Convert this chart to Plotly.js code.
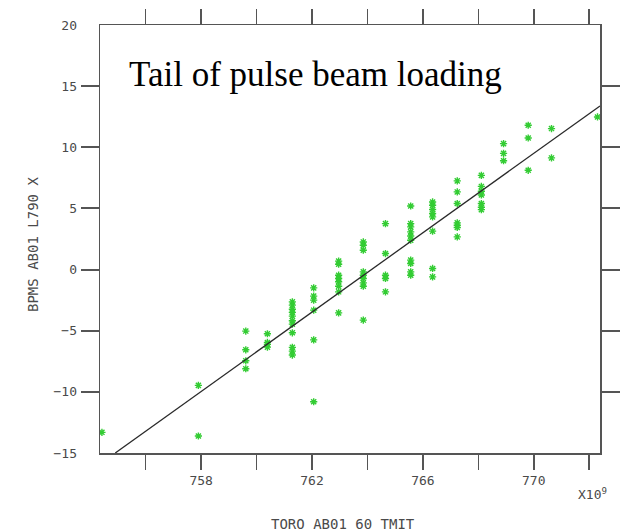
<!DOCTYPE html>
<html>
<head>
<meta charset="utf-8">
<script src="https://cdn.plot.ly/plotly-3.0.1.min.js"></script>
<style>html,body{margin:0;padding:0;background:#fff;}#chart{width:620px;height:531px;}</style>
</head>
<body>
<div id="chart"></div>
<script>
// TORO AB01 60 TMIT (x10^9) values
const tmit = [
  754.42,
  757.90, 757.90,
  759.61, 759.61, 759.61, 759.61,
  760.39, 760.39, 760.39, 760.39,
  761.29, 761.29, 761.29, 761.29, 761.29, 761.29, 761.29, 761.29, 761.29, 761.29, 761.29,
  762.06, 762.06, 762.06, 762.06, 762.06, 762.06,
  762.96, 762.96, 762.96, 762.96, 762.96, 762.96, 762.96, 762.96,
  763.85, 763.85, 763.85, 763.85, 763.85, 763.85, 763.85, 763.85, 763.85,
  764.65, 764.65, 764.65, 764.65, 764.65,
  765.56, 765.56, 765.56, 765.56, 765.56, 765.56, 765.56, 765.56, 765.56, 765.56,
  766.35, 766.35, 766.35, 766.35, 766.35, 766.35, 766.35, 766.35,
  767.24, 767.24, 767.24, 767.24, 767.24, 767.24, 767.24,
  768.11, 768.11, 768.11, 768.11, 768.11, 768.11, 768.11,
  768.91, 768.91, 768.91,
  769.80, 769.80, 769.80,
  770.64, 770.64,
  772.30
];
// BPMS AB01 L790 X values
const bpmX = [
  -13.31,
  -9.47, -13.61,
  -5.03, -6.56, -7.46, -8.11,
  -5.25, -5.96, -6.12, -6.34,
  -2.64, -2.91, -3.24, -3.50, -3.81, -4.19, -4.46, -5.17, -6.36, -6.67, -6.99,
  -1.50, -2.17, -2.50, -3.32, -5.75, -10.81,
  0.69, 0.44, -0.46, -0.73, -1.00, -1.36, -1.82, -3.54,
  2.26, 1.99, 1.58, -0.19, -0.46, -0.73, -1.09, -1.36, -4.13,
  3.76, 1.31, -0.46, -0.73, -1.82,
  5.20, 3.76, 3.49, 3.08, 2.75, 2.40, 0.77, 0.50, -0.19, -0.46,
  5.53, 5.26, 4.91, 4.58, 4.31, 3.14, 0.09, -0.60,
  7.25, 6.35, 5.40, 3.82, 3.63, 3.44, 2.67,
  7.70, 6.80, 6.40, 6.10, 5.40, 5.10, 4.90,
  10.30, 9.50, 8.90,
  11.80, 10.76, 8.12,
  11.53, 9.13,
  12.48
];
// Fitted line end points
const fitX = [754.90, 772.39];
const fitY = [-15.0, 13.38];

const xTicks = [758, 762, 766, 770];
const yLabelVals = [-15, -10, -5, 0, 5, 10, 15, 20];
const yTickVals = [-10, -5, 0, 5, 10, 15];

const mono = 'DejaVu Sans Mono, monospace';
const axisCol = '#555555';
const textCol = '#4a4a4a';

const traces = [
  {
    x: tmit, y: bpmX, type: 'scatter', mode: 'markers',
    marker: {symbol: 'asterisk-open', size: 6, color: '#33cc33', line: {color: '#33cc33', width: 1.4}},
    hoverinfo: 'skip', showlegend: false
  },
  {
    x: fitX, y: fitY, type: 'scatter', mode: 'lines',
    line: {color: '#2a2a2a', width: 1.3},
    hoverinfo: 'skip', showlegend: false
  },
  {
    x: fitX, y: fitY, type: 'scatter', mode: 'lines', yaxis: 'y2',
    line: {color: 'rgba(0,0,0,0)', width: 0},
    hoverinfo: 'skip', showlegend: false
  }
];

const layout = {
  width: 620, height: 531,
  margin: {l: 100, r: 20, t: 25, b: 78},
  paper_bgcolor: '#ffffff', plot_bgcolor: '#ffffff',
  showlegend: false,
  xaxis: {
    range: [754.35, 772.39], tickvals: xTicks, ticktext: xTicks.map(String),
    ticks: 'outside', ticklen: 15, tickwidth: 1.5, tickcolor: axisCol,
    minor: {tick0: 756, dtick: 2, ticks: 'outside', ticklen: 6, tickwidth: 1.5, tickcolor: axisCol, showgrid: false},
    showline: true, linecolor: axisCol, linewidth: 1.5, mirror: 'allticks',
    showgrid: false, zeroline: false,
    tickfont: {family: mono, size: 13, color: textCol}
  },
  yaxis: {
    range: [-15, 20], tickvals: yTickVals,
    ticks: 'outside', ticklen: 18, tickwidth: 2, tickcolor: axisCol,
    showticklabels: false,
    showline: true, linecolor: axisCol, linewidth: 1.5, mirror: 'allticks',
    showgrid: false, zeroline: false
  },
  yaxis2: {
    overlaying: 'y', anchor: 'x', side: 'left', range: [-15, 20],
    tickvals: yLabelVals, ticktext: yLabelVals.map(v => v < 0 ? '\u2212' + Math.abs(v) : String(v)),
    ticks: '', ticklabelstandoff: 22, showline: false,
    showgrid: false, zeroline: false,
    tickfont: {family: mono, size: 13, color: textCol}
  },
  annotations: [
    {text: 'Tail of pulse beam loading', xref: 'paper', yref: 'paper', x: 0.43, y: 0.885,
     xanchor: 'center', yanchor: 'middle', showarrow: false,
     font: {family: 'Liberation Serif, Times New Roman, serif', size: 35, color: '#000'}},
    {text: 'X10<sup>9</sup>', xref: 'paper', yref: 'paper', x: 0.952, y: -0.095,
     xanchor: 'left', yanchor: 'middle', showarrow: false,
     font: {family: mono, size: 13, color: textCol}},
    {text: 'TORO AB01 60 TMIT', xref: 'paper', yref: 'paper', x: 0.486, y: -0.166,
     xanchor: 'center', yanchor: 'middle', showarrow: false,
     font: {family: mono, size: 14, color: textCol}},
    {text: 'BPMS AB01 L790 X', xref: 'paper', yref: 'paper', x: -0.134, y: 0.486,
     xanchor: 'center', yanchor: 'middle', textangle: -90, showarrow: false,
     font: {family: mono, size: 14, color: textCol}}
  ]
};

Plotly.newPlot('chart', traces, layout, {staticPlot: true, displayModeBar: false});
</script>
</body>
</html>
